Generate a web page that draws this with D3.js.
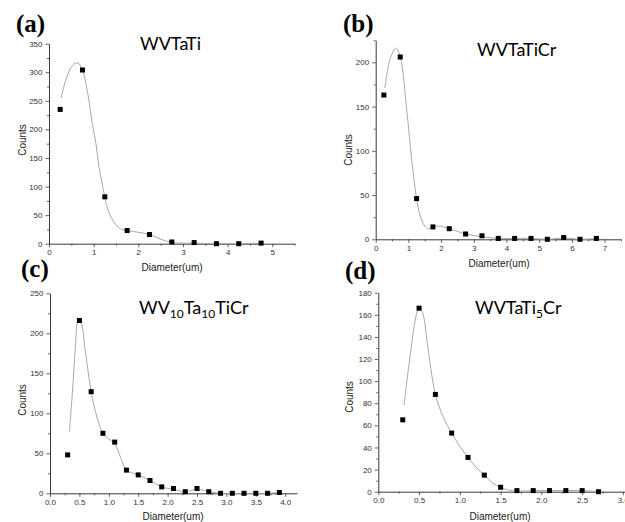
<!DOCTYPE html>
<html>
<head>
<meta charset="utf-8">
<script src="https://cdn.jsdelivr.net/npm/d3@7"></script>
<style>
  html, body { margin: 0; padding: 0; background: #fff; }
  svg { display: block; }
</style>
</head>
<body>
<svg id="chart" width="625" height="522"></svg>
<script>
// ---------------- DATA ----------------
// (a) WVTaTi
const xA = [0.25, 0.75, 1.25, 1.75, 2.25, 2.75, 3.25, 3.75, 4.25, 4.75];
const countsA = [235, 304, 82, 23, 16, 3, 2, 0, 0, 1];
const fitXA = [0.27, 0.4, 0.55, 0.65, 0.75, 0.88, 0.97, 1.05, 1.12, 1.25, 1.3, 1.45, 1.6, 1.75, 2.0, 2.25, 2.5, 2.75, 3.0, 3.25, 3.75, 4.25, 4.75];
const fitYA = [255, 292, 314, 316, 304, 257, 210, 176, 134, 82, 64, 38, 26, 23, 20, 16, 8, 2, 1, 1, 0, 0, 1];

// (b) WVTaTiCr
const xB = [0.25, 0.75, 1.25, 1.75, 2.25, 2.75, 3.25, 3.75, 4.25, 4.75, 5.25, 5.75, 6.25, 6.75];
const countsB = [163, 206, 46, 14, 12, 6, 4, 1, 1, 1, 0, 2, 0, 1];
const fitXB = [0.28, 0.45, 0.62, 0.75, 0.95, 1.1, 1.25, 1.35, 1.5, 1.62, 1.9, 2.25, 2.75, 3.25, 3.75, 4.25, 4.75, 5.25, 5.75, 6.25, 6.75];
const fitYB = [171, 205, 216, 206, 146, 90, 46, 28, 15, 12, 15, 12, 6, 3, 1, 1, 1, 0, 1.5, 0, 1];

// (c) WV10Ta10TiCr
const xC = [0.3, 0.5, 0.7, 0.9, 1.1, 1.3, 1.5, 1.7, 1.9, 2.1, 2.3, 2.5, 2.7, 2.9, 3.1, 3.3, 3.5, 3.7, 3.9];
const countsC = [48, 216, 127, 75, 64, 29, 23, 16, 8, 6, 2, 6, 2, 0, 0, 0, 0, 0, 1];
const fitXC = [0.33, 0.38, 0.43, 0.48, 0.52, 0.6, 0.7, 0.8, 0.9, 1.0, 1.1, 1.2, 1.3, 1.5, 1.7, 1.9, 2.1, 2.3, 2.5, 2.7, 2.9, 3.1, 3.3, 3.5, 3.7, 3.9];
const fitYC = [77, 125, 180, 216, 215, 178, 127, 95, 75, 68, 62, 45, 29, 23, 16, 8, 5, 2, 5, 2, 0, 0, 0, 0, 0, 1];

// (d) WVTaTi5Cr
const xD = [0.3, 0.5, 0.7, 0.9, 1.1, 1.3, 1.5, 1.7, 1.9, 2.1, 2.3, 2.5, 2.7];
const countsD = [65, 166, 88, 53, 31, 15, 4, 1, 1, 1, 1, 1, 0];
const fitXD = [0.315, 0.35, 0.4, 0.45, 0.5, 0.55, 0.6, 0.7, 0.8, 0.9, 1.0, 1.1, 1.2, 1.3, 1.4, 1.5, 1.6, 1.7, 1.9, 2.1, 2.3, 2.5, 2.7];
const fitYD = [78, 100, 128, 154, 167, 160, 135, 88, 67, 53, 41, 31, 22, 15, 8, 4, 1.5, 0.5, 1, 1, 1, 1, 0];

// tick values
const yTicksA = [0, 50, 100, 150, 200, 250, 300, 350];
const xTicksA = [0, 1, 2, 3, 4, 5];
const yTicksB = [0, 50, 100, 150, 200];
const xTicksB = [0, 1, 2, 3, 4, 5, 6, 7];
const yTicksC = [0, 50, 100, 150, 200, 250];
const xTicksC = [0.0, 0.5, 1.0, 1.5, 2.0, 2.5, 3.0, 3.5, 4.0];
const yTicksD = [0, 20, 40, 60, 80, 100, 120, 140, 160, 180];
const xTicksD = [0.0, 0.5, 1.0, 1.5, 2.0, 2.5, 3.0];

const panelLetters = ["(a)", "(b)", "(c)", "(d)"];
const titleMain = [["WVTaTi"], ["WVTaTiCr"], ["WV", "10", "Ta", "10", "TiCr"], ["WVTaTi", "5", "Cr"]];
const xLabel = "Diameter(um)";
const yLabel = "Counts";

// ---------------- LAYOUT ----------------
const panels = [
  { x: xA, y: countsA, fx: fitXA, fy: fitYA, xt: xTicksA, yt: yTicksA, xMinor: 0.5, yMinor: 25, fmt: d3.format("d"),
    xDom: [0, 5.5], yDom: [0, 350], left: 49, right: 294.6, top: 43.7, bottom: 243.7,
    letter: [16, 32], title: [140, 50], xl: [172, 271], yl: [22, 140] },
  { x: xB, y: countsB, fx: fitXB, fy: fitYB, xt: xTicksB, yt: yTicksB, xMinor: 0.5, yMinor: 25, fmt: d3.format("d"),
    xDom: [0, 7.5], yDom: [0, 225], left: 375.7, right: 620.9, top: 40.2, bottom: 239.3,
    letter: [343, 32], title: [477, 56], xl: [499, 267], yl: [348, 150] },
  { x: xC, y: countsC, fx: fitXC, fy: fitYC, xt: xTicksC, yt: yTicksC, xMinor: 0.25, yMinor: 25, fmt: d3.format(".1f"),
    xDom: [0, 4.2], yDom: [0, 250], left: 50, right: 297, top: 293.3, bottom: 493.3,
    letter: [21, 277], title: [139, 314], xl: [173, 520], yl: [22, 400] },
  { x: xD, y: countsD, fx: fitXD, fy: fitYD, xt: xTicksD, yt: yTicksD, xMinor: 0.25, yMinor: 10, fmt: d3.format(".1f"),
    xDom: [0, 3.05], yDom: [0, 180], left: 378.3, right: 627, top: 292.7, bottom: 491.7,
    letter: [345, 279], title: [475, 314], xl: [500, 520], yl: [349, 397] }
];

const svg = d3.select("#chart");
const axisColor = "#3a3a3a";

panels.forEach((p, i) => {
  const g = svg.append("g");
  const x = d3.scaleLinear().domain(p.xDom).range([p.left, p.right]);
  const y = d3.scaleLinear().domain(p.yDom).range([p.bottom, p.top]);

  // minor ticks
  const xMinorVals = d3.range(p.xDom[0], p.xDom[1] + 1e-9, p.xMinor).filter(v => !p.xt.some(t => Math.abs(t - v) < 1e-9));
  const yMinorVals = d3.range(p.yDom[0], p.yDom[1] + 1e-9, p.yMinor).filter(v => !p.yt.some(t => Math.abs(t - v) < 1e-9));

  const gxMinor = g.append("g").attr("transform", `translate(0,${p.bottom})`)
    .call(d3.axisBottom(x).tickValues(xMinorVals).tickSize(2).tickFormat(""));
  gxMinor.select(".domain").remove();
  const gyMinor = g.append("g").attr("transform", `translate(${p.left},0)`)
    .call(d3.axisLeft(y).tickValues(yMinorVals).tickSize(2).tickFormat(""));
  gyMinor.select(".domain").remove();

  const gx = g.append("g").attr("transform", `translate(0,${p.bottom})`)
    .call(d3.axisBottom(x).tickValues(p.xt).tickSize(3.5).tickPadding(2.5).tickSizeOuter(0).tickFormat(p.fmt));
  const gy = g.append("g").attr("transform", `translate(${p.left},0)`)
    .call(d3.axisLeft(y).tickValues(p.yt).tickSize(3.5).tickPadding(3).tickSizeOuter(0).tickFormat(d3.format("d")));

  [gx, gy, gxMinor, gyMinor].forEach(a => {
    a.selectAll("line").attr("stroke", axisColor).attr("stroke-width", 0.8);
    a.selectAll(".domain").attr("stroke", axisColor).attr("stroke-width", 1);
    a.selectAll("text").attr("fill", "#333").style("font-family", "'Liberation Sans', Arial, sans-serif").style("font-size", "8px");
  });

  // fitted curve
  const fit = p.fx.map((v, k) => [v, p.fy[k]]);
  g.append("path")
    .datum(fit)
    .attr("fill", "none")
    .attr("stroke", "#a8a8a8")
    .attr("stroke-width", 1)
    .attr("d", d3.line().x(d => x(d[0])).y(d => y(d[1])).curve(d3.curveCatmullRom.alpha(0.5)));

  // markers
  const pts = p.x.map((v, k) => [v, p.y[k]]);
  g.selectAll("rect.pt").data(pts).enter().append("rect")
    .attr("class", "pt")
    .attr("x", d => x(d[0]) - 2.5)
    .attr("y", d => y(d[1]) - 2.5)
    .attr("width", 5).attr("height", 5)
    .attr("fill", "#000");

  // panel letter
  svg.append("text").attr("x", p.letter[0]).attr("y", p.letter[1])
    .style("font-family", "'Liberation Serif', 'Times New Roman', serif")
    .style("font-weight", "bold").style("font-size", "25px").attr("fill", "#000")
    .text(panelLetters[i]);

  // title with subscripts
  const t = svg.append("text").attr("x", p.title[0]).attr("y", p.title[1])
    .style("font-family", "Lato, 'Open Sans', sans-serif").style("font-size", "18px").attr("fill", "#000");
  titleMain[i].forEach((s, k) => {
    const isSub = /^\d+$/.test(s);
    const span = t.append("tspan").text(s);
    if (isSub) span.attr("dy", 4).style("font-size", "12px");
    else if (k > 0 && /^\d+$/.test(titleMain[i][k - 1])) span.attr("dy", -4);
  });

  // axis labels
  svg.append("text").attr("x", p.xl[0]).attr("y", p.xl[1]).attr("text-anchor", "middle")
    .style("font-family", "'Liberation Sans', Arial, sans-serif").style("font-size", "10px").attr("fill", "#222")
    .text(xLabel);
  svg.append("text").attr("transform", `translate(${p.yl[0]},${p.yl[1]}) rotate(-90)`)
    .attr("text-anchor", "middle").attr("dy", "0.35em")
    .style("font-family", "'Liberation Sans', Arial, sans-serif").style("font-size", "10px").attr("fill", "#222")
    .text(yLabel);
});
</script>
</body>
</html>
